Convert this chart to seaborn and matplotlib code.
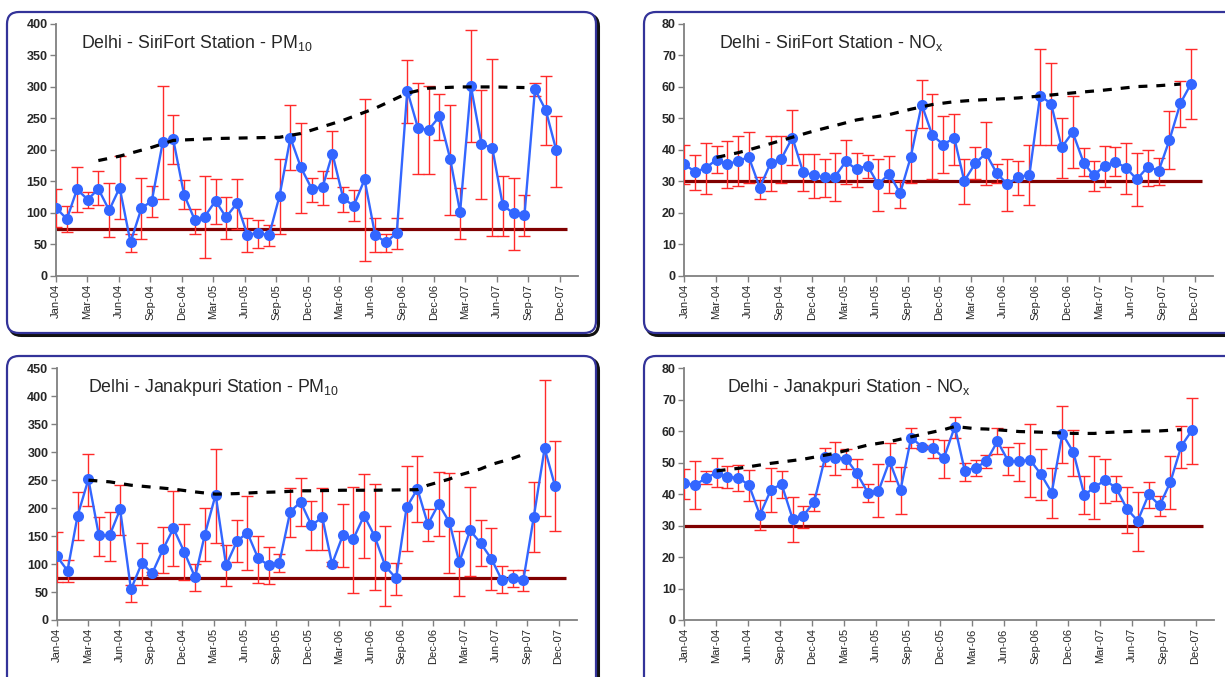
import numpy as np
import pandas as pd
import matplotlib
matplotlib.use("Agg")
import matplotlib.pyplot as plt
from matplotlib.patches import FancyBboxPatch
import seaborn as sns

# ---------------- data ----------------
months = pd.date_range("2004-01-01", periods=48, freq="MS")
x_tick_labels = ["Jan-04", "Mar-04", "Jun-04", "Sep-04", "Dec-04", "Mar-05", "Jun-05",
                 "Sep-05", "Dec-05", "Mar-06", "Jun-06", "Sep-06", "Dec-06", "Mar-07",
                 "Jun-07", "Sep-07", "Dec-07"]

sirifort_pm10 = [108, 90, 137, 121, 138, 104, 140, 53, 107, 119,
                 212, 217, 129, 88, 94, 119, 93, 115, 65, 68,
                 64, 127, 219, 172, 138, 141, 194, 123, 111, 153,
                 65, 53, 68, 294, 234, 232, 253, 185, 101, 301,
                 209, 203, 112, 99, 96, 296, 263, 199]
sirifort_pm10_hi = [137, 110, 173, 133, 166, 148, 191, 67, 155, 143,
                    302, 256, 152, 106, 159, 153, 125, 154, 91, 89,
                    81, 186, 271, 243, 156, 167, 230, 141, 136, 281,
                    91, 67, 91, 343, 306, 301, 289, 271, 140, 390,
                    295, 344, 159, 156, 128, 307, 317, 253]
sirifort_pm10_lo = [78, 70, 101, 107, 113, 61, 90, 38, 58, 93,
                    122, 177, 106, 67, 28, 82, 59, 74, 37, 44,
                    47, 67, 168, 100, 117, 113, 156, 101, 87, 24,
                    37, 37, 43, 243, 161, 162, 215, 97, 58, 212,
                    122, 63, 63, 41, 63, 285, 208, 141]
sirifort_pm10_trend_idx = [4, 6, 9, 11, 15, 21, 23, 27, 30, 33, 35, 38, 41, 44]
sirifort_pm10_trend = [183, 190, 204, 215, 218, 220, 226, 247, 266, 290, 298, 300, 300, 299]

sirifort_nox = [35.4, 33.0, 34.2, 36.9, 35.4, 36.5, 37.7, 28.0, 35.9, 37.2,
                43.9, 33.0, 31.9, 31.3, 31.5, 36.3, 33.8, 35.0, 29.0, 32.4,
                26.2, 37.7, 54.4, 44.6, 41.7, 43.8, 30.1, 35.7, 38.9, 32.5,
                29.1, 31.3, 32.1, 57.2, 54.7, 40.8, 45.6, 35.9, 31.9, 34.9,
                36.2, 34.3, 30.6, 34.6, 33.4, 43.1, 54.8, 61.0]
sirifort_nox_hi = [41.7, 38.5, 42.1, 41.2, 42.9, 44.4, 45.6, 31.5, 44.4, 44.4,
                   52.6, 38.8, 38.8, 37.0, 39.1, 43.2, 39.1, 38.5, 37.0, 37.9,
                   30.0, 46.2, 62.3, 57.9, 50.8, 51.5, 37.0, 40.8, 49.0, 35.5,
                   37.0, 36.5, 41.7, 72.2, 67.7, 50.1, 57.0, 40.5, 36.5, 41.2,
                   41.0, 42.1, 39.1, 39.9, 37.3, 52.2, 61.8, 71.9]
sirifort_nox_lo = [29.1, 27.1, 26.1, 32.5, 27.8, 28.5, 29.4, 24.3, 26.9, 29.5,
                   35.2, 26.9, 24.8, 25.1, 23.7, 29.1, 28.2, 31.2, 20.6, 26.3,
                   21.5, 29.4, 46.9, 30.8, 32.5, 35.3, 22.8, 30.6, 28.8, 29.4,
                   20.7, 25.7, 22.5, 41.7, 41.4, 31.2, 34.1, 31.7, 27.0, 28.1,
                   31.7, 26.1, 22.1, 28.5, 28.7, 33.8, 47.2, 49.9]
sirifort_nox_trend_idx = [3, 5, 6, 8, 11, 12, 14, 16, 19, 21, 23, 25, 27, 30, 31, 33, 36, 39, 42, 44, 46]
sirifort_nox_trend = [37.6, 39.1, 40.0, 42.0, 45.0, 46.0, 47.7, 49.5, 51.2, 52.9, 54.4,
                      55.3, 55.8, 56.3, 56.5, 57.1, 58.1, 59.0, 60.1, 60.4, 60.9]

janakpuri_pm10 = [114.4, 88.2, 186.6, 251.5, 151.4, 151.4, 197.9, 54.8, 101.3, 83.4,
                  126.4, 163.9, 121.6, 76.3, 152.6, 224.1, 97.7, 140.7, 156.2, 110.3,
                  97.7, 102.5, 193.7, 211.0, 169.3, 183.6, 100.1, 151.4, 144.8, 186.6,
                  150.2, 96.0, 74.5, 201.5, 234.2, 171.1, 207.4, 174.6, 103.1, 160.3,
                  137.7, 109.7, 71.5, 74.5, 71.5, 184.8, 307.0, 239.0]
janakpuri_pm10_hi = [156.8, 107.3, 228.9, 296.8, 184.8, 193.7, 241.4, 62.6, 138.3, 86.0,
                     166.9, 230.7, 172.3, 99.5, 200.3, 306.4, 134.7, 178.2, 221.7, 150.2,
                     131.1, 117.4, 236.6, 253.3, 212.2, 236.0, 103.0, 208.0, 238.4, 260.5,
                     243.8, 168.7, 101.9, 276.0, 293.2, 198.5, 264.0, 262.3, 159.7, 238.4,
                     178.8, 163.9, 96.0, 90.0, 90.0, 247.3, 429.1, 319.5]
janakpuri_pm10_lo = [68.5, 67.3, 143.6, 203.8, 113.8, 105.5, 152.6, 32.2, 62.6, 81.0,
                     84.6, 97.2, 70.9, 51.9, 105.5, 138.3, 60.8, 103.7, 88.8, 65.6,
                     63.8, 86.4, 148.4, 168.7, 125.8, 125.8, 97.0, 94.2, 48.9, 110.9,
                     54.2, 24.4, 44.7, 124.0, 175.2, 140.7, 150.2, 83.4, 42.9, 79.3,
                     96.0, 53.6, 47.7, 59.0, 52.4, 121.0, 186.0, 158.5]
janakpuri_pm10_trend_idx = [3, 5, 7, 11, 13, 15, 17, 19, 21, 23, 24, 27, 30, 34, 35, 37, 38, 40, 41, 43, 44]
janakpuri_pm10_trend = [250, 247, 241, 234, 229, 225, 226, 228, 229, 231, 231, 232, 232, 233,
                        241, 252, 259, 270, 278, 289, 296]

janakpuri_nox = [43.4, 42.9, 45.1, 46.8, 45.5, 45.2, 42.9, 33.4, 41.4, 43.2,
                 32.2, 33.1, 37.6, 51.9, 51.6, 51.3, 46.6, 40.5, 41.0, 50.5,
                 41.3, 58.0, 55.0, 54.8, 51.4, 61.5, 47.4, 48.4, 50.5, 56.8,
                 50.6, 50.4, 50.9, 46.4, 40.5, 59.2, 53.3, 39.6, 42.3, 44.4,
                 42.0, 35.3, 31.5, 39.9, 36.4, 43.8, 55.3, 60.3]
janakpuri_nox_hi = [48.1, 50.6, 47.2, 51.6, 49.1, 49.2, 47.8, 38.0, 48.3, 47.2,
                    39.2, 36.3, 40.2, 54.8, 56.6, 54.4, 51.2, 43.3, 49.6, 56.2,
                    48.5, 61.0, 55.6, 57.4, 57.2, 64.6, 50.0, 51.0, 52.5, 61.0,
                    55.1, 56.3, 62.2, 54.5, 48.4, 68.0, 60.4, 45.7, 52.2, 51.3,
                    45.9, 42.4, 40.7, 44.0, 39.4, 52.2, 61.7, 70.7]
janakpuri_nox_lo = [38.4, 35.2, 43.3, 42.2, 41.9, 41.1, 37.8, 28.6, 34.3, 38.9,
                    24.7, 29.4, 34.5, 49.1, 46.2, 47.9, 42.2, 37.4, 32.6, 44.2,
                    33.6, 54.6, 54.3, 51.6, 45.2, 57.7, 44.3, 45.8, 48.4, 52.7,
                    46.1, 44.1, 39.2, 38.1, 32.4, 49.9, 45.8, 33.6, 32.1, 37.2,
                    37.8, 27.8, 21.8, 35.7, 33.1, 35.2, 48.4, 49.6]
janakpuri_nox_trend_idx = [3, 5, 8, 11, 14, 17, 19, 22, 24, 25, 27, 28, 30, 31, 33, 36, 38, 39, 42, 44, 46]
janakpuri_nox_trend = [47.4, 48.2, 49.8, 51.1, 53.0, 55.6, 56.7, 59.0, 60.5, 61.5, 60.8,
                       60.7, 60.2, 59.9, 59.7, 59.3, 59.3, 59.6, 60.0, 60.1, 60.5]

pm10_standard = 75
nox_standard = 30

titles = ["Delhi - SiriFort Station - PM$_{10}$", "Delhi - SiriFort Station - NO$_{x}$",
          "Delhi - Janakpuri Station - PM$_{10}$", "Delhi - Janakpuri Station - NO$_{x}$"]

# ---------------- style ----------------
sns.set_style("ticks")
plt.rcParams["font.family"] = ["Liberation Sans", "DejaVu Sans"]
plt.rcParams["mathtext.default"] = "regular"

W, H = 1225, 677
fig = plt.figure(figsize=(W / 100, H / 100), dpi=100)
fig.patch.set_facecolor("white")

# background layer in pixel coordinates for the rounded frames
bg = fig.add_axes([0, 0, 1, 1], zorder=0)
bg.set_xlim(0, W)
bg.set_ylim(H, 0)
bg.axis("off")
frames = [(7, 12, 589, 321), (644, 12, 600, 321), (7, 356, 589, 340), (644, 356, 600, 340)]
for (x0, y0, w, h) in frames:
    bg.add_patch(FancyBboxPatch((x0 + 2.5, y0 + 2.5), w, h,
                                boxstyle="round,pad=0,rounding_size=12",
                                facecolor="none", edgecolor="#111111", lw=2.2))
    bg.add_patch(FancyBboxPatch((x0, y0), w, h, boxstyle="round,pad=0,rounding_size=12",
                                facecolor="white", edgecolor="#333399", lw=1.6))


def px_axes(left, top, right, bottom):
    return fig.add_axes([left / W, 1 - bottom / H, (right - left) / W, (bottom - top) / H], zorder=1)


def draw_panel(ax, title, vals, hi, lo, t_idx, t_vals, std, ymax, ystep, title_x):
    vals = np.asarray(vals, float)
    hi = np.asarray(hi, float)
    lo = np.asarray(lo, float)
    ax.set_facecolor("none")
    end_std = months[-1] + pd.DateOffset(months=1)
    ax.hlines(std, months[0], end_std, color="#800000", lw=2.3, zorder=2)
    ax.errorbar(months, vals, yerr=[vals - lo, hi - vals], fmt="none", ecolor="#FF2A2A",
                elinewidth=1.0, capsize=4, capthick=1.0, zorder=3)
    df = pd.DataFrame({"date": months, "value": vals})
    sns.lineplot(data=df, x="date", y="value", ax=ax, color="#3366FF", lw=1.7,
                 marker="o", markersize=8, markeredgewidth=0, zorder=4)
    tdf = pd.DataFrame({"date": months[t_idx], "value": t_vals})
    ax.plot(tdf["date"], tdf["value"], color="black", lw=2.3, linestyle=(0, (2.8, 2.8)), zorder=5)

    ax.set_xlim(months[0], months[-1] + pd.DateOffset(months=2))
    ax.set_ylim(0, ymax)
    ax.set_yticks(np.arange(0, ymax + 0.1, ystep))
    ax.set_yticklabels([f"{int(v)}" for v in np.arange(0, ymax + 0.1, ystep)],
                       fontweight="bold", fontsize=9)
    tick_dates = [months[0] + pd.Timedelta(days=90 * k) for k in range(len(x_tick_labels))]
    ax.set_xticks(tick_dates)
    ax.set_xticklabels(x_tick_labels, rotation=90, fontsize=8)
    ax.set_xlabel("")
    ax.set_ylabel("")
    for s in ["top", "right"]:
        ax.spines[s].set_visible(False)
    for s in ["left", "bottom"]:
        ax.spines[s].set_color("#808080")
        ax.spines[s].set_linewidth(1.3)
    ax.tick_params(axis="both", direction="out", length=4, width=1, color="#808080", pad=2)
    ax.text(title_x, 0.925, title, transform=ax.transAxes, fontsize=12.8, va="center", ha="left")


ax1 = px_axes(56, 24, 578, 275.7)
ax2 = px_axes(684.3, 24, 1213, 275.7)
ax3 = px_axes(56.7, 368.3, 576.7, 620)
ax4 = px_axes(684.3, 368.3, 1214, 620)

draw_panel(ax1, titles[0], sirifort_pm10, sirifort_pm10_hi, sirifort_pm10_lo,
           sirifort_pm10_trend_idx, sirifort_pm10_trend, pm10_standard, 400, 50, 0.048)
draw_panel(ax2, titles[1], sirifort_nox, sirifort_nox_hi, sirifort_nox_lo,
           sirifort_nox_trend_idx, sirifort_nox_trend, nox_standard, 80, 10, 0.066)
draw_panel(ax3, titles[2], janakpuri_pm10, janakpuri_pm10_hi, janakpuri_pm10_lo,
           janakpuri_pm10_trend_idx, janakpuri_pm10_trend, pm10_standard, 450, 50, 0.061)
draw_panel(ax4, titles[3], janakpuri_nox, janakpuri_nox_hi, janakpuri_nox_lo,
           janakpuri_nox_trend_idx, janakpuri_nox_trend, nox_standard, 80, 10, 0.081)

fig.savefig("out.png", dpi=100, facecolor="white")
